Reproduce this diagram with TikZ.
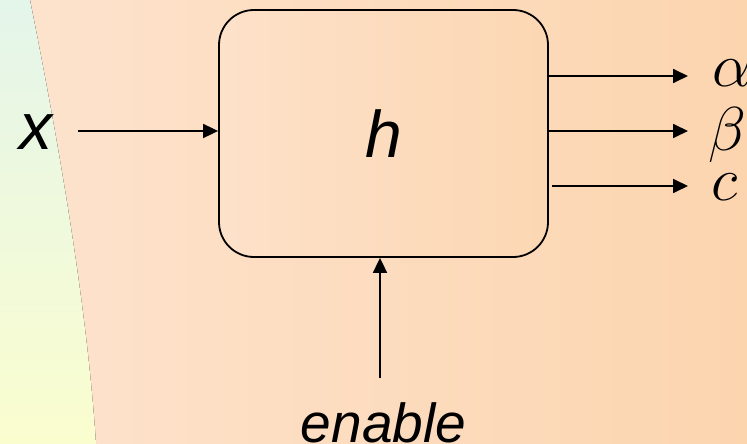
\RequirePackage{fix-cm}
\documentclass[tikz,border=0pt]{standalone}
\usepackage{fontspec}
\setmainfont{Liberation Sans}
\usetikzlibrary{arrows.meta}

\definecolor{peachL}{RGB}{253,227,206}
\definecolor{peachR}{RGB}{252,213,175}
\definecolor{boxL}{RGB}{253,225,201}
\definecolor{boxR}{RGB}{252,215,179}
\definecolor{mintTop}{RGB}{228,245,234}
\definecolor{creamBot}{RGB}{250,253,206}

\tikzset{
  arr/.style={line width=1.8pt, -{Triangle[length=15pt,width=14pt]}},
  blockbox/.style={draw, line width=1.8pt, rounded corners=35pt,
    minimum width=329pt, minimum height=247pt, inner sep=0pt,
    left color=boxL, right color=boxR},
  big/.style={font=\fontsize{66}{66}\selectfont\itshape},
  mid/.style={font=\fontsize{55}{55}\selectfont\itshape},
  sym/.style={font=\fontsize{62}{62}\selectfont, inner sep=0pt, anchor=base west}
}

\begin{document}
\begin{tikzpicture}[x=1pt,y=-1pt]
  % page and background
  \useasboundingbox (0,0) rectangle (747,444);
  \fill[left color=peachL, right color=peachR] (0,0) rectangle (747,444);
  \fill[top color=mintTop, bottom color=creamBot]
    (0,0) -- (30,0) .. controls (52,110) and (86,290) .. (96,444) -- (0,444) -- cycle;

  % block
  \node[blockbox, big] (h) at (383.5,133.5) {h};

  % input
  \node[big] (xl) at (36,132) {x};
  \coordinate (xin) at (78,131);
  \draw[arr] (xin) -- (xin -| h.west);

  % outputs
  \coordinate (oa) at (688,76);
  \coordinate (ob) at (688,131);
  \coordinate (oc) at (688,186);
  \draw[arr] (h.east |- oa) -- (oa);
  \draw[arr] (h.east |- ob) -- (ob);
  \draw[arr] ([xshift=3pt]h.east |- oc) -- (oc);
  \node[sym] (la) at (712,87) {$\alpha$};
  \node[sym] (lb) at (708,150) {$\beta$};
  \node[sym] (lc) at (711,200) {$c$};

  % enable
  \coordinate (en) at (380,378);
  \draw[arr] (en) -- (en |- h.south);
  \node[mid, anchor=base, inner sep=0pt] (el) at (383.5,442) {enable};
\end{tikzpicture}
\end{document}
